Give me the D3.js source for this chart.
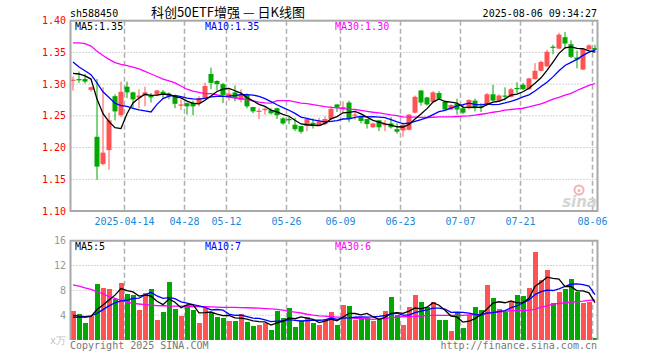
<!DOCTYPE html>
<html><head><meta charset="utf-8">
<script src="https://cdn.jsdelivr.net/npm/d3@7"></script>
<style>body{margin:0;background:#fff}svg{display:block}</style>
</head><body>
<svg id="c" width="660" height="360"></svg>
<script>
const dates = ["03-31","04-01","04-02","04-03","04-07","04-08","04-09","04-10","04-11","04-14","04-15","04-16","04-17","04-18","04-21","04-22","04-23","04-24","04-25","04-28","04-29","04-30","05-06","05-07","05-08","05-09","05-12","05-13","05-14","05-15","05-16","05-19","05-20","05-21","05-22","05-23","05-26","05-27","05-28","05-29","05-30","06-03","06-04","06-05","06-06","06-09","06-10","06-11","06-12","06-13","06-16","06-17","06-18","06-19","06-20","06-23","06-24","06-25","06-26","06-27","06-30","07-01","07-02","07-03","07-04","07-07","07-08","07-09","07-10","07-11","07-14","07-15","07-16","07-17","07-18","07-21","07-22","07-23","07-24","07-25","07-28","07-29","07-30","07-31","08-01","08-04","08-05","08-06"];
const open  = [1.306,1.308,1.308,1.291,1.217,1.174,1.196,1.281,1.251,1.296,1.287,1.279,1.282,1.282,1.283,1.288,1.285,1.281,1.266,1.270,1.271,1.270,1.278,1.316,1.305,1.300,1.279,1.287,1.275,1.283,1.264,1.257,1.259,1.259,1.262,1.246,1.245,1.236,1.234,1.234,1.239,1.234,1.237,1.245,1.268,1.263,1.271,1.251,1.248,1.245,1.232,1.243,1.236,1.238,1.229,1.227,1.228,1.255,1.290,1.279,1.272,1.286,1.272,1.260,1.269,1.262,1.262,1.274,1.265,1.269,1.284,1.274,1.282,1.280,1.294,1.299,1.292,1.308,1.321,1.328,1.359,1.356,1.374,1.363,1.342,1.323,1.355,1.357];
const high  = [1.312,1.320,1.316,1.296,1.308,1.295,1.255,1.284,1.304,1.304,1.288,1.292,1.296,1.286,1.291,1.291,1.287,1.282,1.276,1.271,1.274,1.281,1.302,1.326,1.306,1.302,1.294,1.298,1.292,1.285,1.264,1.262,1.265,1.262,1.263,1.248,1.248,1.247,1.234,1.246,1.246,1.247,1.249,1.265,1.268,1.273,1.274,1.256,1.249,1.245,1.239,1.243,1.243,1.248,1.238,1.237,1.253,1.282,1.290,1.280,1.289,1.289,1.274,1.268,1.277,1.268,1.276,1.277,1.270,1.286,1.299,1.284,1.295,1.294,1.303,1.302,1.310,1.333,1.337,1.354,1.362,1.381,1.382,1.369,1.353,1.356,1.363,1.362];
const low   = [1.290,1.302,1.301,1.288,1.149,1.172,1.165,1.243,1.248,1.278,1.262,1.262,1.265,1.271,1.281,1.277,1.276,1.262,1.259,1.252,1.251,1.265,1.277,1.292,1.290,1.270,1.274,1.273,1.271,1.262,1.254,1.245,1.252,1.252,1.245,1.236,1.237,1.226,1.222,1.226,1.230,1.234,1.236,1.244,1.256,1.255,1.240,1.244,1.238,1.230,1.231,1.226,1.226,1.230,1.222,1.217,1.227,1.254,1.266,1.266,1.271,1.276,1.259,1.259,1.252,1.253,1.260,1.257,1.256,1.266,1.273,1.273,1.274,1.279,1.286,1.291,1.291,1.307,1.320,1.327,1.347,1.355,1.356,1.341,1.325,1.322,1.354,1.351];
const close = [1.307,1.306,1.304,1.295,1.170,1.192,1.243,1.257,1.288,1.287,1.276,1.282,1.287,1.279,1.290,1.283,1.281,1.269,1.268,1.265,1.265,1.278,1.297,1.302,1.300,1.283,1.285,1.278,1.283,1.265,1.257,1.258,1.261,1.254,1.251,1.238,1.243,1.229,1.225,1.245,1.234,1.241,1.245,1.261,1.263,1.264,1.245,1.252,1.242,1.237,1.238,1.232,1.237,1.232,1.225,1.236,1.252,1.280,1.271,1.268,1.287,1.277,1.260,1.267,1.260,1.255,1.275,1.262,1.263,1.284,1.274,1.282,1.281,1.292,1.293,1.292,1.309,1.321,1.335,1.351,1.358,1.378,1.364,1.343,1.339,1.355,1.361,1.354];
const volume = [4.68,4.17,2.74,3.85,9.09,8.36,8.23,6.61,9.19,7.40,7.26,4.87,7.58,8.23,3.23,4.57,9.38,5.00,3.87,5.38,4.84,2.80,5.10,4.41,3.76,3.55,3.06,3.06,4.19,2.90,2.26,2.42,2.80,1.61,4.68,3.60,5.16,2.10,3.06,3.66,2.74,2.42,3.39,4.57,2.42,5.65,5.48,3.23,3.50,3.50,3.06,3.39,4.68,6.88,4.03,2.42,5.32,7.26,6.13,5.27,6.13,3.23,3.23,1.45,4.52,1.94,3.98,5.32,4.84,8.87,6.77,5.00,4.52,6.29,7.26,7.10,8.39,14.19,9.68,11.29,6.02,7.80,8.23,9.84,7.74,6.02,6.13,0.38];
const ma5Head  = [1.317,1.316,1.313,1.308];
const ma10Head = [1.335,1.327,1.321,1.315,1.302,1.288,1.279,1.270,1.266];
const ma30 = [1.365,1.365,1.364,1.360,1.352,1.345,1.339,1.334,1.331,1.329,1.327,1.324,1.320,1.316,1.312,1.308,1.305,1.302,1.297,1.292,1.289,1.287,1.285,1.285,1.283,1.281,1.2795,1.278,1.277,1.2757,1.2735,1.2718,1.2705,1.270,1.274,1.274,1.274,1.272,1.270,1.2693,1.2677,1.266,1.2646,1.2635,1.2625,1.2615,1.2605,1.260,1.2585,1.257,1.2557,1.2547,1.253,1.2516,1.2505,1.2485,1.248,1.2479,1.2476,1.2474,1.2478,1.2484,1.2484,1.2484,1.249,1.2495,1.250,1.251,1.2525,1.254,1.2557,1.257,1.259,1.260,1.261,1.262,1.264,1.2665,1.269,1.2725,1.2765,1.279,1.2825,1.2855,1.290,1.294,1.298,1.301];
const volMa5Head  = [3.7,3.7,3.7,3.8];
const volMa10Head = [4.0,3.85,3.75,3.9,4.3,4.9,5.5,6.0,6.3];
const volMa30 = [8.9,8.7,8.4,8.15,7.8,7.45,7.0,6.7,6.4,6.1,5.9,5.8,5.7,5.6,5.55,5.52,5.48,5.47,5.45,5.42,5.38,5.38,5.36,5.33,5.3,5.27,5.27,5.25,5.23,5.2,5.16,5.12,5.06,5.0,4.92,4.8,4.62,4.5,4.35,4.15,4.0,3.9,3.85,3.76,3.7,3.66,3.64,3.5,3.45,3.4,3.33,3.4,3.45,3.6,3.7,3.76,3.78,3.8,3.87,3.92,3.98,3.98,3.98,3.98,3.98,3.98,4.05,4.1,4.17,4.3,4.4,4.5,4.62,4.73,4.73,4.75,4.8,4.95,5.3,5.5,5.8,5.9,6.0,6.12,6.13,6.25,6.4,6.45];
const priceTicks = [1.10,1.15,1.20,1.25,1.30,1.35,1.40];
const volTicks = [0,4,8,12,16];
const tickDates  = ["04-14","04-28","05-12","05-26","06-09","06-23","07-07","07-21","08-06"];
const tickLabels = ["2025-04-14","04-28","05-12","05-26","06-09","06-23","07-07","07-21","08-06"];
const priceLegend = ["MA5:1.35","MA10:1.35","MA30:1.30"];
const volLegend = ["MA5:5","MA10:7","MA30:6"];

const RED="#ff5252", GREEN="#00a800", GRID="#aaaaaa", FRAME="#a8a8a8";
const MONO="'DejaVu Sans Mono', monospace";
const svg=d3.select("#c");
const L=70.5,R=597.5,T=20.7,B=211,VT=240.7,VB=340;
const x=d3.scaleBand().domain(dates).range([L,R]).paddingInner(1/6).paddingOuter(0);
const bw=x.bandwidth();
const cx=d=>x(d)+bw/2;
const y=d3.scaleLinear().domain([1.10,1.40]).range([B,T]);
const yv=d3.scaleLinear().domain([0,16]).range([VB,VT]);

function movAvg(vals,n,head){return vals.map((v,i)=> i<n-1 ? head[i] : d3.mean(vals.slice(i-n+1,i+1)));}
const ma5=movAvg(close,5,ma5Head), ma10=movAvg(close,10,ma10Head);
const vma5=movAvg(volume,5,volMa5Head), vma10=movAvg(volume,10,volMa10Head);

// grids
const g=svg.append("g");
g.selectAll(".hp").data(priceTicks.slice(1,-1)).join("line")
 .attr("x1",L).attr("x2",R).attr("y1",d=>y(d)).attr("y2",d=>y(d))
 .attr("stroke",GRID).attr("stroke-dasharray","1,2");
g.selectAll(".hv").data(volTicks.slice(1,-1)).join("line")
 .attr("x1",L).attr("x2",R).attr("y1",d=>yv(d)).attr("y2",d=>yv(d))
 .attr("stroke",GRID).attr("stroke-dasharray","1,2");
tickDates.forEach(d=>{
  [[T,B],[VT,VB]].forEach(([a,b])=>{
    g.append("line").attr("x1",x(d)).attr("x2",x(d)).attr("y1",a).attr("y2",b)
     .attr("stroke","#b0b0b0").attr("stroke-width",1.5).attr("stroke-dasharray","5,3");
  });
});

// sina watermark
svg.append("circle").attr("cx",579).attr("cy",190).attr("r",4.5).attr("fill","none").attr("stroke","#f3b3b3").attr("stroke-width",2);
svg.append("circle").attr("cx",579).attr("cy",190.5).attr("r",1.5).attr("fill","#f3b3b3");
svg.append("text").attr("x",597).attr("y",207).attr("text-anchor","end")
 .attr("font-family","'DejaVu Sans', sans-serif").attr("font-weight","bold").attr("font-style","italic")
 .attr("font-size",15).attr("fill","#d4d4d4").text("sina");

// candles
const idx=d3.range(dates.length);
const col=i=> close[i]>=open[i]?RED:GREEN;
const cg=svg.append("g");
cg.selectAll(".w").data(idx).join("line")
 .attr("x1",i=>cx(dates[i])).attr("x2",i=>cx(dates[i]))
 .attr("y1",i=>y(high[i])).attr("y2",i=>y(low[i])).attr("stroke",col).attr("stroke-width",1);
cg.selectAll(".b").data(idx).join("rect")
 .attr("x",i=>x(dates[i])).attr("width",bw)
 .attr("y",i=>y(Math.max(open[i],close[i])))
 .attr("height",i=>Math.max(1.2,Math.abs(y(open[i])-y(close[i]))))
 .attr("fill",col);

// volume bars
svg.append("g").selectAll("rect").data(idx).join("rect")
 .attr("x",i=>x(dates[i])).attr("width",bw)
 .attr("y",i=>yv(volume[i])).attr("height",i=>VB-yv(volume[i]))
 .attr("fill",col).attr("shape-rendering","crispEdges");

// MA lines
function drawLine(vals,ys,color){
  const ln=d3.line().x((d,i)=>cx(dates[i])).y(d=>ys(d));
  svg.append("path").datum(vals).attr("d",ln).attr("fill","none").attr("stroke",color).attr("stroke-width",1.3);
}
drawLine(ma30,y,"#ff00ff"); drawLine(ma10,y,"#0000ff"); drawLine(ma5,y,"#000000");
drawLine(volMa30,yv,"#ff00ff"); drawLine(vma10,yv,"#0000ff"); drawLine(vma5,yv,"#000000");

// frames
const fr=svg.append("g").attr("stroke",FRAME).attr("stroke-width",2).attr("fill","none");
fr.append("rect").attr("x",L).attr("y",T).attr("width",R-L).attr("height",B-T);
fr.append("path").attr("d",`M${L},${VB}V${VT}H${R}V${VB}`);

// axis labels
const lab=svg.append("g").attr("font-family",MONO).attr("font-size",10);
lab.selectAll(".pl").data(priceTicks).join("text")
 .attr("x",66).attr("y",d=>y(d)).attr("dy","0.35em").attr("text-anchor","end")
 .attr("fill","#ff0000").text(d=>d.toFixed(2));
lab.selectAll(".vl").data(volTicks.slice(1)).join("text")
 .attr("x",66).attr("y",d=>yv(d)).attr("dy","0.35em").attr("text-anchor","end")
 .attr("fill","#999999").text(d=>d);
lab.append("text").attr("x",66).attr("y",yv(0)).attr("dy","0.35em").attr("text-anchor","end")
 .attr("fill","#c0c0c0").text("x万");
lab.selectAll(".xl").data(tickDates).join("text")
 .attr("x",d=>x(d)).attr("y",225).attr("text-anchor","middle")
 .attr("fill","#1a88d8").text((d,i)=>tickLabels[i]);

// legends
const lgx=[75,205,335], lgc=["#000000","#0000ff","#ff00ff"];
priceLegend.forEach((t,i)=>lab.append("text").attr("x",lgx[i]).attr("y",30).attr("fill",lgc[i]).text(t));
volLegend.forEach((t,i)=>lab.append("text").attr("x",lgx[i]).attr("y",250).attr("fill",lgc[i]).text(t));

// header / footer
lab.append("text").attr("x",70).attr("y",17).attr("fill","#000").text("sh588450");
lab.append("text").attr("x",597).attr("y",17).attr("text-anchor","end").attr("fill","#000").text("2025-08-06 09:34:27");
svg.append("text").attr("x",151).attr("y",17).attr("font-family","'Noto Sans CJK SC', sans-serif")
 .attr("font-size",13).attr("fill","#000").text("科创50ETF增强 — 日K线图");
lab.append("text").attr("x",70).attr("y",349).attr("fill","#777").text("Copyright 2025 SINA.COM");
lab.append("text").attr("x",597).attr("y",349).attr("text-anchor","end").attr("fill","#777").text("http://finance.sina.com.cn");
</script>
</body></html>
